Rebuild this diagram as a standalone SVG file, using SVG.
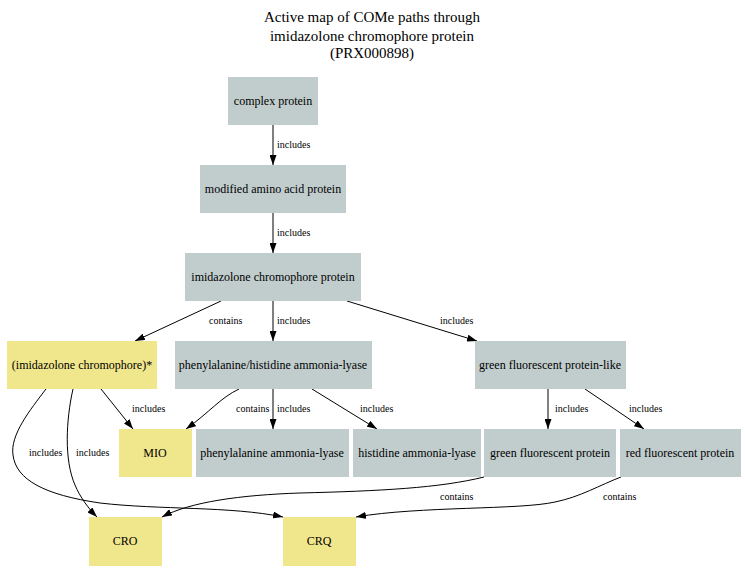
<svg xmlns="http://www.w3.org/2000/svg" width="745" height="582" viewBox="0 0 745 582">
<style>
.g rect{fill:#c1cdcd}
.y rect{fill:#f0e68c}
.n text{font-family:"Liberation Serif","Times New Roman",serif;font-size:12px;text-anchor:middle;fill:#000}
.t{font-family:"Liberation Serif","Times New Roman",serif;font-size:15px;text-anchor:middle;fill:#000}
#edges path{fill:none;stroke:#000;stroke-width:1;marker-end:url(#ah)}
#edges text{font-family:"Liberation Serif","Times New Roman",serif;font-size:10px;fill:#000}
</style>
<defs>
<marker id="ah" markerUnits="userSpaceOnUse" markerWidth="10" markerHeight="7" refX="10" refY="3.5" orient="auto">
<path d="M0,0 L10,3.5 L0,7 z" fill="#000"/>
</marker>
</defs>
<rect width="745" height="582" fill="#fff"/>
<g id="title">
<text class="t" x="372" y="22">Active map of COMe paths through</text>
<text class="t" x="372" y="41">imidazolone chromophore protein</text>
<text class="t" x="372" y="58">(PRX000898)</text>
</g>
<g id="edges">
<path d="M273,125 L273,165"/><text x="277" y="148">includes</text>
<path d="M273,213 L273,253"/><text x="277" y="236">includes</text>
<path d="M221,301 L135,341"/><text x="209" y="324">contains</text>
<path d="M273,301 L273,341"/><text x="277" y="324">includes</text>
<path d="M347,301 L477,341"/><text x="440" y="324">includes</text>
<path d="M101,389 L133,429"/><text x="132" y="412">includes</text>
<path d="M239,389 C220,398 210,412 186,429"/><text x="236" y="412">contains</text>
<path d="M273,389 L273,429"/><text x="277" y="412">includes</text>
<path d="M312,389 L377,429"/><text x="360" y="412">includes</text>
<path d="M73,389 C66,420 64,460 75,485 C80,497 88,508 97,517"/><text x="76" y="456">includes</text>
<path d="M46,389 C30,410 10,435 13,455 C16,480 45,495 100,503 C160,510 230,506 283,517"/><text x="29" y="456">includes</text>
<path d="M548,389 L548,429"/><text x="555" y="412">includes</text>
<path d="M585,389 L644,429"/><text x="629" y="412">includes</text>
<path d="M484,477 C440,488 380,491 300,493 C240,495 190,502 162,517"/><text x="440" y="500">contains</text>
<path d="M621,477 C600,485 580,497 555,502 C520,510 420,506 356,517"/><text x="603" y="500">contains</text>
</g>
<g id="n1" class="n g"><rect x="228" y="77" width="90" height="48"/><text x="273" y="105">complex protein</text></g>
<g id="n2" class="n g"><rect x="200" y="165" width="146" height="48"/><text x="273" y="193">modified amino acid protein</text></g>
<g id="n3" class="n g"><rect x="185" y="253" width="176" height="48"/><text x="273" y="281">imidazolone chromophore protein</text></g>
<g id="n4" class="n y"><rect x="7" y="341" width="150" height="48"/><text x="82" y="369">(imidazolone chromophore)*</text></g>
<g id="n5" class="n g"><rect x="175" y="341" width="197" height="48"/><text x="273" y="369">phenylalanine/histidine ammonia-lyase</text></g>
<g id="n6" class="n g"><rect x="475" y="341" width="151" height="48"/><text x="550" y="369">green fluorescent protein-like</text></g>
<g id="n7" class="n y"><rect x="119" y="429" width="73" height="48"/><text x="155" y="457">MIO</text></g>
<g id="n8" class="n g"><rect x="196" y="429" width="153" height="48"/><text x="272" y="457">phenylalanine ammonia-lyase</text></g>
<g id="n9" class="n g"><rect x="353" y="429" width="128" height="48"/><text x="417" y="457">histidine ammonia-lyase</text></g>
<g id="n10" class="n g"><rect x="484" y="429" width="132" height="48"/><text x="550" y="457">green fluorescent protein</text></g>
<g id="n11" class="n g"><rect x="620" y="429" width="121" height="48"/><text x="680" y="457">red fluorescent protein</text></g>
<g id="n12" class="n y"><rect x="89" y="517" width="73" height="49"/><text x="125" y="545">CRO</text></g>
<g id="n13" class="n y"><rect x="283" y="517" width="73" height="49"/><text x="319" y="545">CRQ</text></g>
</svg>
